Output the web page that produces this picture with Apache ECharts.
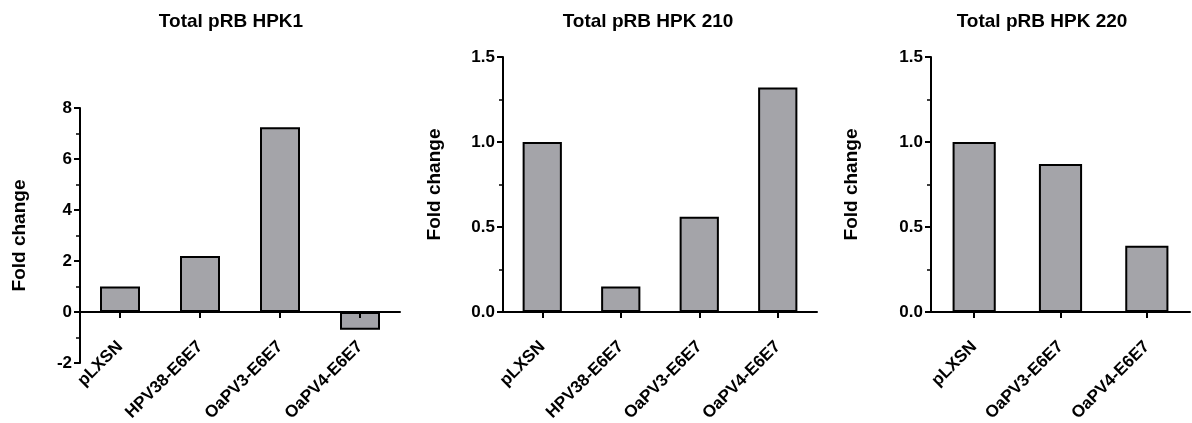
<!DOCTYPE html>
<html>
<head>
<meta charset="utf-8">
<script src="https://cdn.jsdelivr.net/npm/echarts@6/dist/echarts.min.js"></script>
<style>
  html, body { margin: 0; padding: 0; background: #fff; }
  #chart { width: 1192px; height: 423px; }
</style>
</head>
<body>
<div id="chart"></div>
<script>
const TITLES = ['Total pRB HPK1', 'Total pRB HPK 210', 'Total pRB HPK 220']
const CATS_1 = ['pLXSN', 'HPV38-E6E7', 'OaPV3-E6E7', 'OaPV4-E6E7']
const CATS_2 = ['pLXSN', 'HPV38-E6E7', 'OaPV3-E6E7', 'OaPV4-E6E7']
const CATS_3 = ['pLXSN', 'OaPV3-E6E7', 'OaPV4-E6E7']
const VALUES_1 = [1.0, 2.2, 7.25, -0.7]
const VALUES_2 = [1.0, 0.15, 0.56, 1.32]
const VALUES_3 = [1.0, 0.87, 0.39]
const Y_RANGES = [[-2, 8, 2], [0, 1.5, 0.5], [0, 1.5, 0.5]]

const FONT = '"Liberation Sans", Arial, sans-serif'
const BAR_COLOR = '#a4a4a9'

// labelMargin: chart 1's labels are measured from the grid bottom, not the zero line
const panels = [
  { cats: CATS_1, values: VALUES_1, grid: { left: 80, top: 108, width: 320, height: 255 }, titleX: 226, nameGap: 51, labelMargin: -19 },
  { cats: CATS_2, values: VALUES_2, grid: { left: 503, top: 57, width: 314, height: 255 }, titleX: 643, nameGap: 59, labelMargin: 32 },
  { cats: CATS_3, values: VALUES_3, grid: { left: 931, top: 57, width: 259, height: 255 }, titleX: 1037, nameGap: 70, labelMargin: 32 }
]

const chart = echarts.init(document.getElementById('chart'))

const axisLine = { show: true, lineStyle: { color: '#000', width: 2 } }

const option = {
  animation: false,
  title: panels.map((p, i) => ({
    text: TITLES[i],
    left: p.titleX,
    top: 7,
    textAlign: 'center',
    textStyle: { fontFamily: FONT, fontWeight: 'bold', fontSize: 19, color: '#000' }
  })),
  grid: panels.map((p) => ({ ...p.grid, containLabel: false, outerBoundsMode: 'none' })),
  xAxis: panels.map((p, i) => ({
    type: 'category',
    gridIndex: i,
    data: p.cats,
    z: 5,
    axisLine: { ...axisLine, onZero: true },
    axisTick: { show: true, alignWithLabel: true, length: 6, lineStyle: { color: '#000', width: 2 } },
    axisLabel: {
      rotate: 45,
      interval: 0,
      margin: p.labelMargin,
      fontFamily: FONT,
      fontWeight: 'bold',
      fontSize: 17,
      color: '#000'
    },
    splitLine: { show: false }
  })),
  yAxis: panels.map((p, i) => {
    const [min, max, step] = Y_RANGES[i]
    const decimals = step < 1 ? 1 : 0
    return {
      type: 'value',
      gridIndex: i,
      min,
      max,
      interval: step,
      name: 'Fold change',
      nameLocation: 'middle',
      nameRotate: 90,
      nameGap: p.nameGap,
      nameTextStyle: { fontFamily: FONT, fontWeight: 'bold', fontSize: 19, color: '#000' },
      axisLine: axisLine,
      axisTick: { show: true, length: 6, lineStyle: { color: '#000', width: 2 } },
      minorTick: { show: true, splitNumber: 2, length: 4, lineStyle: { color: '#000', width: 1.5 } },
      axisLabel: {
        margin: 8,
        fontFamily: FONT,
        fontWeight: 'bold',
        fontSize: 17,
        color: '#000',
        formatter: (v) => v.toFixed(decimals)
      },
      splitLine: { show: false }
    }
  }),
  series: panels.map((p, i) => ({
    type: 'bar',
    xAxisIndex: i,
    yAxisIndex: i,
    data: p.values,
    barWidth: '50%',
    itemStyle: { color: BAR_COLOR, borderColor: '#000', borderWidth: 2 }
  }))
}

chart.setOption(option)
</script>
</body>
</html>
